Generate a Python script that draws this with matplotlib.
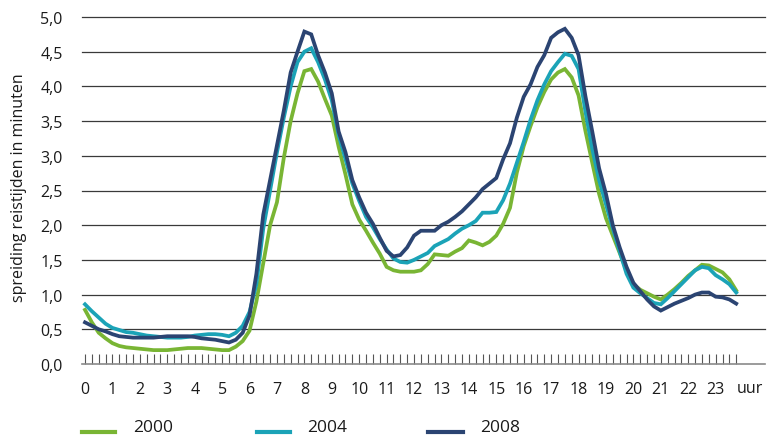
import matplotlib
matplotlib.use("Agg")
import matplotlib.pyplot as plt
from matplotlib.lines import Line2D
import numpy as np

plt.rcParams['font.family'] = ['Open Sans', 'DejaVu Sans']

# quarter-hour index 0..95 (00:00 .. 23:45)
quarters = np.arange(96) / 4.0
hour_labels = [str(h) for h in range(24)]
y_ticks = [0.0, 0.5, 1.0, 1.5, 2.0, 2.5, 3.0, 3.5, 4.0, 4.5, 5.0]

s2000 = [
    0.78, 0.60, 0.45, 0.37, 0.30, 0.26, 0.24, 0.23, 0.22, 0.21, 0.20, 0.20,
    0.20, 0.21, 0.22, 0.23, 0.23, 0.23, 0.22, 0.21, 0.20, 0.20, 0.25, 0.33,
    0.48, 0.90, 1.45, 2.00, 2.33, 2.97, 3.50, 3.90, 4.22, 4.25, 4.07, 3.82,
    3.58, 3.13, 2.73, 2.30, 2.08, 1.92, 1.75, 1.59, 1.40, 1.35, 1.33, 1.33,
    1.33, 1.35, 1.44, 1.58, 1.57, 1.56, 1.62, 1.67, 1.78, 1.75, 1.71, 1.76,
    1.85, 2.02, 2.25, 2.76, 3.14, 3.43, 3.70, 3.92, 4.10, 4.20, 4.25, 4.13,
    3.87, 3.36, 2.90, 2.45, 2.10, 1.85, 1.60, 1.35, 1.15, 1.07, 1.02, 0.97,
    0.93, 1.00, 1.08, 1.17, 1.27, 1.35, 1.43, 1.42, 1.37, 1.32, 1.22, 1.06]

s2004 = [
    0.86, 0.76, 0.67, 0.58, 0.52, 0.49, 0.46, 0.45, 0.43, 0.41, 0.40, 0.39,
    0.38, 0.38, 0.38, 0.39, 0.41, 0.42, 0.43, 0.43, 0.42, 0.40, 0.45, 0.55,
    0.75, 1.15, 1.95, 2.50, 3.05, 3.55, 4.00, 4.35, 4.50, 4.55, 4.35, 4.10,
    3.80, 3.30, 2.95, 2.60, 2.35, 2.12, 1.97, 1.80, 1.65, 1.52, 1.47, 1.46,
    1.50, 1.55, 1.60, 1.70, 1.75, 1.80, 1.88, 1.95, 2.00, 2.06, 2.18, 2.18,
    2.19, 2.36, 2.60, 2.90, 3.20, 3.52, 3.80, 4.03, 4.22, 4.35, 4.47, 4.44,
    4.25, 3.64, 3.10, 2.65, 2.30, 1.95, 1.62, 1.30, 1.10, 1.02, 0.95, 0.88,
    0.86, 0.95, 1.05, 1.15, 1.25, 1.35, 1.40, 1.38, 1.28, 1.22, 1.15, 1.03]

s2008 = [
    0.60, 0.55, 0.50, 0.47, 0.43, 0.40, 0.39, 0.38, 0.38, 0.38, 0.38, 0.39,
    0.40, 0.40, 0.40, 0.40, 0.39, 0.37, 0.36, 0.35, 0.33, 0.31, 0.35, 0.45,
    0.70, 1.30, 2.15, 2.65, 3.15, 3.65, 4.20, 4.50, 4.79, 4.75, 4.45, 4.20,
    3.90, 3.35, 3.05, 2.65, 2.40, 2.18, 2.02, 1.82, 1.63, 1.55, 1.57, 1.68,
    1.85, 1.92, 1.92, 1.92, 2.00, 2.05, 2.12, 2.20, 2.30, 2.40, 2.52, 2.60,
    2.68, 2.95, 3.18, 3.55, 3.85, 4.03, 4.28, 4.45, 4.70, 4.78, 4.83, 4.70,
    4.45, 3.86, 3.35, 2.82, 2.45, 2.00, 1.68, 1.40, 1.17, 1.05, 0.93, 0.83,
    0.77, 0.82, 0.87, 0.91, 0.95, 1.00, 1.03, 1.03, 0.97, 0.96, 0.93, 0.87]

series = [("2000", s2000, "#79B534"), ("2004", s2004, "#1BA3B7"), ("2008", s2008, "#2B4472")]

W, H = 769, 439
fig = plt.figure(figsize=(W / 100, H / 100), dpi=100)
ax = fig.add_axes([82 / W, 1 - 365 / H, (765 - 82) / W, (365 - 18) / H])

for name, vals, col in series:
    ax.plot(quarters, vals, color=col, lw=2.7, solid_joinstyle='miter', zorder=3)

ax.set_xlim(-0.11, 24.8)
ax.set_ylim(0, 5.0)
ax.set_yticks(y_ticks)
ax.set_yticklabels([f"{v:.1f}".replace('.', ',') for v in y_ticks], fontsize=11.5, color='#1a1a1a')
for v in y_ticks[1:]:
    ax.axhline(v, color='#3a3a3a', lw=0.9, zorder=1, clip_on=False)

# one tick per quarter hour, label on every full hour
qlabels = [hour_labels[i // 4] if i % 4 == 0 else "" for i in range(len(quarters))]
ax.set_xticks(quarters)
ax.set_xticklabels(qlabels, fontsize=11.5, color='#1a1a1a')
ax.tick_params(axis='x', which='major', direction='in', length=7.5, width=0.8,
               color='#555555', pad=12)
ax.tick_params(axis='y', length=0, pad=14)

for sp in ['top', 'right', 'left']:
    ax.spines[sp].set_visible(False)
ax.spines['bottom'].set_color('#8a8a8a')
ax.spines['bottom'].set_linewidth(1.2)

fig.text(750 / W, 1 - 389 / H, "uur", ha='center', va='center', fontsize=11.5, color='#1a1a1a')
fig.text(19 / W, 1 - 188 / H, "spreiding reistijden in minuten", rotation=90,
         ha='center', va='center', fontsize=11.5, color='#1a1a1a')

# legend
leg = [(82, 115, 133), (257, 290, 307), (428, 463, 480)]
for (x0, x1, xt), (name, vals, col) in zip(leg, series):
    fig.add_artist(Line2D([x0 / W, x1 / W], [1 - 433 / H, 1 - 433 / H], transform=fig.transFigure,
                          color=col, lw=3.0))
    fig.text(xt / W, 1 - 428 / H, name, ha='left', va='center', fontsize=12.5, color='#1a1a1a')

fig.savefig("out.png", dpi=100)
